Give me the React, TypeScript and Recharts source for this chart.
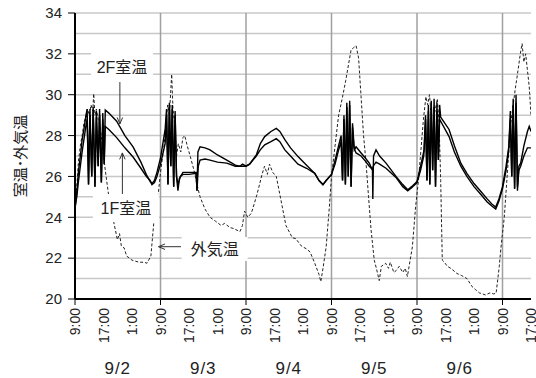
import React from 'react';
import { LineChart, Line, XAxis, YAxis, CartesianGrid, ReferenceLine, ReferenceDot } from 'recharts';

// hours since 9/2 9:00
const xTicks = [0, 8, 16, 24, 32, 40, 48, 56, 64, 72, 80, 88, 96, 104, 112, 120, 128];
const xTickLabels = ['9:00', '17:00', '1:00'];
const dateTicks = [12, 36, 60, 84, 108];
const dateLabels = ['9/2', '9/3', '9/4', '9/5', '9/6'];
const yTicks = [20, 22, 24, 26, 28, 30, 32, 34];
const hGrid = [21, 22, 23, 24, 25, 26, 27, 28, 29, 30, 31, 32, 33, 34];
const vGrid = [24, 48, 72, 96, 120];

const room2F: [number, number][] = [
  [0, 24.4], [0.5, 25.2], [1, 26.3], [1.5, 27.0], [2, 27.8], [2.5, 28.3], [3, 28.9], [3.4, 29.3],
  [3.8, 25.6], [4.2, 29.3], [4.7, 26.0], [5.1, 29.4], [5.6, 25.5], [6.0, 29.2], [6.5, 26.5], [6.9, 29.3],
  [7.4, 25.7], [7.8, 29.1], [8.2, 26.6], [8.5, 29.25],
  [9.5, 29.1], [11.7, 28.7], [14, 28.0], [16.3, 27.45], [18.5, 26.7], [20, 26.1], [21.1, 25.75],
  [21.6, 25.65], [22.3, 25.8], [23, 26.2], [24, 26.9], [25.3, 28.3],
  [25.7, 29.3], [26.1, 25.6], [26.5, 29.6], [26.9, 26.5], [27.3, 29.5], [27.7, 25.5], [28.1, 29.2], [28.5, 26.0],
  [28.9, 25.3], [29.3, 25.9], [30.3, 26.2], [32, 26.2], [34.0, 26.2],
  [34.25, 25.3], [34.5, 27.2], [35.1, 27.45], [36.5, 27.4], [37.9, 27.3], [40, 27.05], [42.6, 26.8], [45, 26.55],
  [46.3, 26.5], [47, 26.6], [48, 26.5], [49, 26.6], [50.9, 27.05], [52, 27.6], [53.25, 27.95], [55, 28.2],
  [56.5, 28.35], [57.5, 28.2], [58.9, 27.8], [60.5, 27.4], [62.6, 26.97], [65, 26.55], [67.3, 26.15], [68.5, 25.8],
  [69.6, 25.6], [70.5, 25.8], [72, 26.1], [73, 26.8], [74, 27.5], [74.7, 28.0],
  [75.1, 25.8], [75.5, 29.0], [75.9, 25.6], [76.3, 29.6], [76.7, 26.0], [77.1, 29.7], [77.5, 25.5], [77.9, 28.6],
  [78.4, 27.3], [78.9, 27.45], [80.3, 27.15], [81.5, 26.9], [82.6, 26.65],
  [83.5, 26.3], [83.6, 24.9], [83.8, 27.0], [84.5, 27.3], [85.5, 27.0], [87.3, 26.65], [90.1, 26.0], [92, 25.6],
  [93.4, 25.35], [94.5, 25.5], [96, 25.75], [97, 26.5], [98, 27.3],
  [98.4, 29.0], [98.8, 25.8], [99.2, 29.5], [99.6, 25.6], [100.0, 29.7], [100.4, 26.3], [100.8, 29.8], [101.2, 25.5],
  [101.6, 29.6], [102.0, 26.8], [102.35, 29.5], [102.65, 28.9],
  [105, 28.3], [106.5, 27.5], [108.3, 26.65], [110, 26.15], [112, 25.65], [114, 25.25], [115.7, 24.9], [117, 24.65],
  [118.1, 24.5], [119, 24.9], [120, 25.5], [121, 26.5], [121.8, 27.5],
  [122.2, 29.2], [122.6, 26.0], [123.0, 29.8], [123.4, 25.4], [123.8, 30.0], [124.2, 25.3], [124.6, 26.5],
  [125.1, 26.65], [126, 27.5], [127, 28.2], [127.5, 28.45], [128, 28.2],
];

const room1F: [number, number][] = [
  [0, 24.5], [0.5, 25.0], [1, 25.8], [1.5, 26.5], [2, 27.2], [2.5, 27.8], [3, 28.4], [3.4, 28.8],
  [3.8, 25.6], [4.2, 29.0], [4.7, 26.0], [5.1, 29.2], [5.6, 25.5], [6.0, 28.9], [6.5, 26.5], [6.9, 29.0],
  [7.4, 25.7], [7.8, 28.8], [8.2, 26.6], [8.5, 28.45],
  [9.5, 28.3], [11.7, 27.9], [14, 27.4], [16.3, 26.95], [18.5, 26.4], [20, 26.0], [21.1, 25.8],
  [21.6, 25.6], [22.3, 25.7], [23, 26.0], [24, 26.6], [25.3, 27.6],
  [25.7, 29.0], [26.1, 25.6], [26.5, 29.5], [26.9, 26.5], [27.3, 29.3], [27.7, 25.5], [28.1, 29.0], [28.5, 26.0],
  [28.9, 25.6], [29.6, 26.0], [30.3, 26.1], [32, 26.1],
  [34.0, 26.15], [34.25, 25.3], [34.6, 26.5], [35.1, 26.8], [36.5, 26.85], [37.9, 26.8], [40, 26.7], [42.6, 26.65],
  [45, 26.5], [46.3, 26.5], [48, 26.5], [49, 26.6], [50.9, 27.0], [52, 27.3], [53.25, 27.55], [55, 27.7],
  [56.5, 27.85], [57.5, 27.7], [58.9, 27.3], [60.5, 27.0], [62.6, 26.6], [65, 26.4], [67.3, 26.15], [68.5, 25.8],
  [69.6, 25.6], [70.5, 25.8], [72, 26.1], [73, 26.6], [74, 27.3], [74.7, 27.7],
  [75.1, 25.8], [75.5, 28.8], [75.9, 25.6], [76.3, 29.4], [76.7, 26.0], [77.1, 29.5], [77.5, 25.5], [77.9, 28.4],
  [78.3, 27.4], [78.9, 27.15], [80.3, 27.0], [81.5, 26.75], [82.6, 26.5], [83.5, 26.35],
  [83.7, 26.5], [84.5, 26.7], [85.5, 26.6], [87.3, 26.4], [90.1, 25.95], [92, 25.5], [93.4, 25.3], [94.5, 25.45],
  [96, 25.7], [97, 26.3], [97.9, 27.0],
  [98.4, 28.8], [98.8, 25.8], [99.2, 29.2], [99.6, 25.6], [100.0, 29.5], [100.4, 26.3], [100.8, 29.4], [101.2, 25.5],
  [101.6, 29.2], [102.0, 26.8], [102.35, 28.8], [102.65, 28.7],
  [105, 27.95], [106.5, 27.2], [108.3, 26.5], [110, 26.0], [112, 25.5], [114, 25.1], [115.7, 24.75], [117, 24.55],
  [118.1, 24.4], [119, 24.8], [120, 25.4], [121, 26.3], [121.7, 27.2],
  [122.2, 28.8], [122.6, 26.0], [123.0, 29.5], [123.4, 25.4], [123.8, 29.6], [124.2, 25.5], [124.6, 26.3],
  [125.1, 26.5], [126, 27.0], [127, 27.4], [128, 27.4],
];

const outdoor: [number, number][] = [
  [0, 24.3], [0.5, 25.5], [1, 26.8], [1.5, 27.5], [2, 28.0], [2.5, 28.6], [3, 28.9], [3.5, 29.3], [4, 29.0],
  [4.5, 29.5], [5, 29.2], [5.25, 30.05], [5.6, 29.0], [6, 29.3], [6.5, 28.8], [7, 28.5], [7.5, 27.8], [8.5, 26.3],
  [9.5, 25.0], [10.6, 24.0], [11.9, 22.9], [12.5, 23.2], [13, 22.6], [13.8, 22.5], [14.5, 22.1], [15.3, 22.0],
  [16.0, 21.9], [17, 21.85], [18, 21.8], [19.5, 21.8], [20.2, 21.75], [21.3, 22.1], [22.2, 23.9], [23.0, 24.5],
  [24, 26.2], [25, 27.5], [25.5, 28.5], [26, 29.5], [26.5, 29.0], [27.14, 31.0], [27.5, 29.3], [28, 28.5],
  [28.5, 27.0], [29.0, 27.6], [29.7, 27.2], [30.3, 27.9], [30.8, 28.0], [31.5, 27.5], [32.4, 26.95], [33.4, 26.3],
  [34.4, 25.5], [35.1, 25.0], [36.5, 24.4], [37.9, 24.0], [39.5, 23.8], [41, 23.6], [42, 23.7], [43.5, 23.5],
  [44.5, 23.45], [46.3, 23.3], [47, 23.6], [47.6, 24.3], [48.5, 24.0], [49.5, 24.2], [50.9, 25.0], [51.5, 25.4],
  [52.5, 26.1], [53.2, 26.5], [54, 26.1], [54.6, 26.6], [55.5, 26.2], [56.5, 26.0], [57.8, 24.85], [59.2, 23.6],
  [61, 23.0], [62, 22.95], [63.5, 22.6], [65, 22.45], [66, 22.3], [67.3, 21.75], [68.5, 21.2], [69.0, 20.85],
  [69.7, 21.6], [70.5, 22.55], [71.4, 24.5], [72, 26.0], [73, 27.5], [74, 29.0], [75, 29.8], [76, 30.7],
  [76.8, 31.5], [77.5, 32.2], [78.2, 32.3], [78.9, 32.4], [79.6, 31.8], [80.3, 29.9], [81.0, 28.0], [81.7, 26.65],
  [82.4, 25.0], [83.1, 23.4], [84.0, 21.9], [84.6, 21.5], [85.4, 20.9], [86.0, 21.6], [87.2, 21.75], [88.0, 21.5],
  [88.5, 21.8], [89.5, 21.3], [90.2, 21.4], [91.0, 21.6], [92, 21.3], [92.7, 21.5], [93.3, 21.1], [94.7, 22.55],
  [95.6, 24.5], [96.4, 25.8], [97.2, 27.5], [97.8, 28.8], [98.5, 29.9], [99.0, 29.5], [99.5, 30.0], [100.0, 29.0],
  [100.6, 28.9], [101.2, 29.3], [101.7, 29.8], [102.2, 28.6], [102.65, 25.8], [103.1, 21.9], [103.7, 21.8],
  [104.5, 21.6], [105.5, 21.5], [107.2, 21.25], [108.5, 21.15], [110, 21.0], [111.5, 20.6], [112.5, 20.45],
  [113.5, 20.3], [115.2, 20.2], [116.5, 20.3], [117.5, 20.25], [118.2, 20.28], [119.1, 21.6], [119.5, 22.4],
  [120.5, 24.0], [121.5, 26.5], [122.3, 28.6], [123.0, 29.5], [123.6, 30.3], [124.2, 31.0], [124.6, 31.5],
  [125.0, 32.0], [125.5, 32.5], [126.0, 31.6], [126.5, 32.0], [127.0, 31.2], [127.5, 30.4], [128, 29.0],
];

const toData = (arr: [number, number][]) => arr.map(([h, v]) => ({ h, v }));
const data2F = toData(room2F);
const data1F = toData(room1F);
const dataOut = toData(outdoor);

const FONT = '"Liberation Sans", Arial, "Noto Sans CJK JP", sans-serif';

const XTick = (props: any) => {
  const { x, y, payload, index } = props;
  const label = xTickLabels[index % 3];
  const major = payload.value % 24 === 0;
  return (
    <g>
      {major && <line x1={x} y1={y} x2={x} y2={y + 6} stroke="#000" strokeWidth={1} />}
      <text
        x={x}
        y={y + 9}
        transform={`rotate(-90 ${x} ${y + 9})`}
        textAnchor="end"
        dy="0.36em"
        fontSize={14}
        fill="#222"
        fontFamily={FONT}
      >
        {label}
      </text>
    </g>
  );
};

const makeDate = (text: string) => (p: any) => {
  const { cx, cy } = p;
  return (
    <text x={cx} y={cy + 75} textAnchor="middle" fontSize={17} fill="#222" fontFamily={FONT} letterSpacing={1}>
      {text}
    </text>
  );
};

const makeLabel = (text: string, w: number, h: number) => (p: any) => {
  const { cx, cy } = p;
  return (
    <g>
      <rect x={cx - w / 2} y={cy - h / 2} width={w} height={h} fill="#fff" />
      <text x={cx} y={cy} dy="0.36em" textAnchor="middle" fontSize={16} fill="#222" fontFamily={FONT}>
        {text}
      </text>
    </g>
  );
};

const arrowShape = (p: any) => {
  const { x1, y1, x2, y2 } = p;
  const ang = Math.atan2(y2 - y1, x2 - x1);
  const L = 7;
  const a1 = ang + Math.PI - 0.4;
  const a2 = ang + Math.PI + 0.4;
  return (
    <g>
      <line x1={x1} y1={y1} x2={x2} y2={y2} stroke="#333" strokeWidth={1} />
      <polyline
        points={`${x2 + L * Math.cos(a1)},${y2 + L * Math.sin(a1)} ${x2},${y2} ${x2 + L * Math.cos(a2)},${y2 + L * Math.sin(a2)}`}
        fill="none"
        stroke="#333"
        strokeWidth={1}
      />
    </g>
  );
};

export default function App() {
  return (
    <div style={{ position: 'absolute', left: 0, top: 0, background: '#fff' }}>
      <LineChart width={536} height={378} margin={{ top: 13, right: 5, left: 0, bottom: 0 }}>
        <CartesianGrid horizontalValues={hGrid} vertical={false} stroke="#c8c8c8" strokeWidth={1.5} />
        <CartesianGrid verticalValues={vGrid} horizontal={false} stroke="#a0a0a0" strokeWidth={1.5} />
        <XAxis
          dataKey="h"
          type="number"
          domain={[0, 128]}
          ticks={xTicks}
          interval={0}
          height={79}
          tickSize={0}
          tickMargin={0}
          tick={<XTick />}
          axisLine={{ stroke: '#000', strokeWidth: 2 }}
          tickLine={false}
          allowDataOverflow
        />
        <YAxis
          type="number"
          domain={[20, 34]}
          ticks={yTicks}
          interval={0}
          width={75}
          tickSize={7}
          tickMargin={6}
          tick={{ fontSize: 15, fill: '#222', fontFamily: FONT }}
          axisLine={{ stroke: '#000', strokeWidth: 2 }}
          tickLine={{ stroke: '#000' }}
          allowDataOverflow
          label={({ viewBox }: any) => {
            const cy = viewBox.y + viewBox.height / 2;
            return (
              <text
                x={21}
                y={cy}
                transform={`rotate(-90 21 ${cy})`}
                textAnchor="middle"
                dy="0.36em"
                fontSize={15}
                fill="#222"
                fontFamily={FONT}
              >
                室温･外気温
              </text>
            );
          }}
        />
        <Line data={dataOut} dataKey="v" type="linear" stroke="#222" strokeWidth={1} strokeDasharray="3 2" dot={false} isAnimationActive={false} />
        <Line data={data1F} dataKey="v" type="linear" stroke="#000" strokeWidth={1.4} dot={false} isAnimationActive={false} />
        <Line data={data2F} dataKey="v" type="linear" stroke="#000" strokeWidth={1.4} dot={false} isAnimationActive={false} />
        <ReferenceDot x={13.2} y={31.36} r={0} shape={makeLabel('2F室温', 62, 28)} ifOverflow="visible" />
        <ReferenceDot x={14.3} y={24.45} r={0} shape={makeLabel('1F室温', 66, 28)} ifOverflow="visible" />
        <ReferenceDot x={39.2} y={22.45} r={0} shape={makeLabel('外気温', 66, 24)} ifOverflow="visible" />
        <ReferenceLine segment={[{ x: 12.6, y: 30.62 }, { x: 12.6, y: 28.57 }]} shape={arrowShape} ifOverflow="visible" />
        <ReferenceLine segment={[{ x: 13.3, y: 25.14 }, { x: 13.3, y: 27.15 }]} shape={arrowShape} ifOverflow="visible" />
        <ReferenceLine segment={[{ x: 29.75, y: 22.56 }, { x: 23.45, y: 22.56 }]} shape={arrowShape} ifOverflow="visible" />
        {dateTicks.map((h, i) => (
          <ReferenceDot key={h} x={h} y={20} r={0} shape={makeDate(dateLabels[i])} ifOverflow="visible" />
        ))}
      </LineChart>
    </div>
  );
}
